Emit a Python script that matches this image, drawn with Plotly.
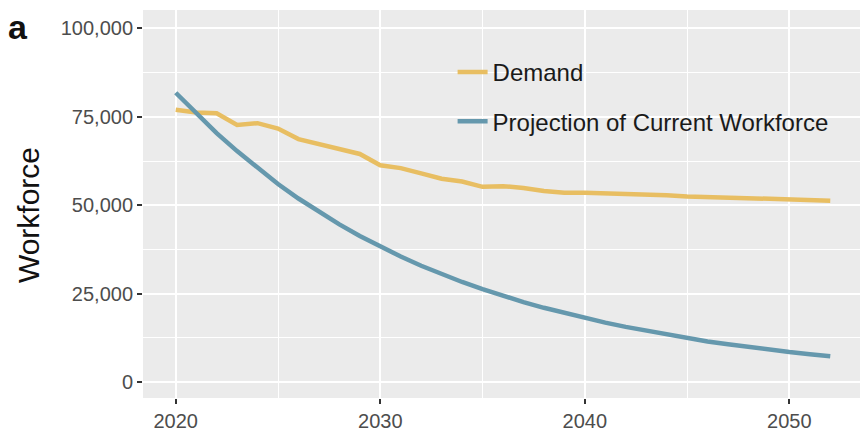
import plotly.graph_objects as go

years = list(range(2020, 2053))
demand = [77000, 76200, 76000, 72700, 73200, 71700, 68700, 67300, 66100, 64500,
          61300, 60500, 59000, 57500, 56700, 55200, 55400, 54900, 54000, 53500,
          53500, 53400, 53200, 53000, 52800, 52500, 52300, 52100, 51900, 51800,
          51700, 51500, 51300]
projection = [81800, 75900, 70400, 65300, 60500, 56000, 51900, 48100, 44600, 41300,
              38300, 35500, 32900, 30500, 28300, 26300, 24400, 22600, 21000, 19500,
              18100, 16800, 15600, 14500, 13400, 12400, 11500, 10700, 9900, 9200,
              8500, 7900, 7300]
x_ticks = [2020, 2030, 2040, 2050]
y_ticks = [0, 25000, 50000, 75000, 100000]

FONT = "Liberation Sans, Arial, sans-serif"

fig = go.Figure()
fig.add_trace(go.Scatter(x=years, y=demand, mode="lines", name="Demand",
                         line=dict(color="#E8BE62", width=4.5), legendgroup="a"))
fig.add_trace(go.Scatter(x=years, y=projection, mode="lines",
                         name="Projection of Current Workforce",
                         line=dict(color="#6598AD", width=4.5), legendgroup="b"))

axis_common = dict(
    showgrid=True, gridcolor="white", gridwidth=1.6, zeroline=False,
    ticks="outside", ticklen=5, tickwidth=1.5, tickcolor="#333333",
    tickfont=dict(family=FONT, size=20, color="#4D4D4D"),
    showline=False,
)
fig.update_xaxes(range=[2018.4, 2053.6], tickvals=x_ticks,
                 minor=dict(tickmode="array", tickvals=[2025, 2035, 2045], showgrid=True,
                            gridcolor="white", gridwidth=0.7, ticks=""),
                 **axis_common)
fig.update_yaxes(range=[-4500, 105200], tickvals=y_ticks, tickformat=",d",
                 minor=dict(tickmode="array", tickvals=[12500, 37500, 62500, 87500],
                            showgrid=True, gridcolor="white", gridwidth=0.7, ticks=""),
                 **axis_common)

# page body adds an 8px offset; margins compensate for it
fig.update_layout(
    width=860, height=432,
    margin=dict(l=135, r=5, t=2, b=42, autoexpand=False),
    plot_bgcolor="#EBEBEB", paper_bgcolor="white",
    font=dict(family=FONT),
    legend=dict(x=0.43, y=0.897, xanchor="left", yanchor="top",
                bgcolor="rgba(0,0,0,0)", tracegroupgap=15,
                font=dict(size=24, color="#1A1A1A")),
    showlegend=True,
)
fig.add_annotation(text="Workforce", xref="paper", yref="paper", x=-0.158, y=0.472,
                   xanchor="center", yanchor="middle",
                   textangle=-90, showarrow=False,
                   font=dict(family=FONT, size=30, color="#111111"))
fig.add_annotation(text="<b>a</b>", xref="paper", yref="paper", x=-0.1736, y=0.955,
                   xanchor="center", yanchor="middle", showarrow=False,
                   font=dict(family=FONT, size=34, color="#111111"))

fig.write_html("out.html")
